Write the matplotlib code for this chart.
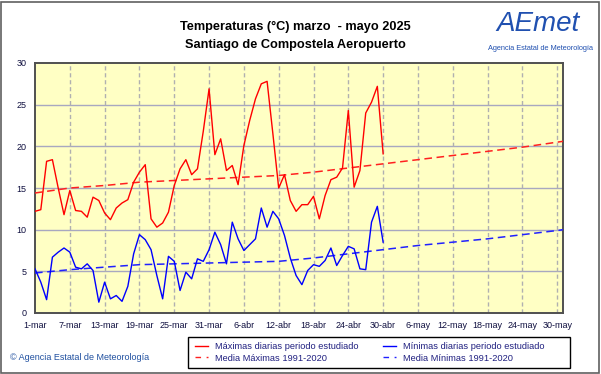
import matplotlib
matplotlib.use("Agg")
import matplotlib.pyplot as plt
from matplotlib.patches import Rectangle
from matplotlib.lines import Line2D

# ---- data (day index from 1-mar) ----
tmax = [12.2, 12.4, 18.2, 18.4, 15.0, 11.8, 14.7, 12.3, 12.2, 11.5,
        13.9, 13.5, 12.0, 11.2, 12.6, 13.2, 13.6, 15.7, 16.9, 17.8,
        11.3, 10.3, 10.8, 12.1, 15.3, 17.3, 18.4, 16.6, 17.3, 21.8,
        26.9, 19.0, 20.9, 17.1, 17.7, 15.4, 20.1, 23.1, 25.7, 27.5,
        27.8, 21.5, 15.0, 16.6, 13.5, 12.2, 13.0, 13.0, 14.0, 11.3,
        14.1, 16.0, 16.3, 17.4, 24.3, 15.1, 17.1, 24.0, 25.3, 27.2,
        19.1]
tmin = [5.3, 3.7, 1.6, 6.7, 7.3, 7.8, 7.3, 5.5, 5.3, 5.9,
        5.1, 1.3, 3.7, 1.7, 2.1, 1.4, 3.2, 7.1, 9.4, 8.8,
        7.6, 4.5, 1.7, 6.8, 6.2, 2.7, 4.9, 4.1, 6.5, 6.2,
        7.6, 9.7, 8.2, 5.9, 10.9, 8.9, 7.5, 8.2, 8.9, 12.6,
        10.3, 12.2, 11.3, 9.3, 6.6, 4.5, 3.4, 5.1, 5.8, 5.6,
        6.3, 7.8, 5.7, 6.9, 8.0, 7.7, 5.3, 5.2, 10.9, 12.8,
        8.5]
mean_days = [0, 6, 12, 18, 24, 30, 36, 42, 48, 54, 60, 66, 72, 78, 84, 90, 91]
mean_max = [14.4, 15.0, 15.3, 15.7, 15.9, 16.1, 16.3, 16.5, 16.9, 17.4,
            17.9, 18.4, 18.9, 19.4, 19.9, 20.5, 20.6]
mean_min = [4.8, 5.2, 5.5, 5.8, 5.9, 6.0, 6.1, 6.2, 6.6, 7.1,
            7.6, 8.1, 8.5, 8.9, 9.4, 9.9, 10.0]
tick_days = [0, 6, 12, 18, 24, 30, 36, 42, 48, 54, 60, 66, 72, 78, 84, 90]
tick_labels = ["1-mar", "7-mar", "13-mar", "19-mar", "25-mar", "31-mar",
               "6-abr", "12-abr", "18-abr", "24-abr", "30-abr", "6-may",
               "12-may", "18-may", "24-may", "30-may"]
y_ticks = [0, 5, 10, 15, 20, 25, 30]

plt.rcParams['font.family'] = ['Liberation Sans', 'DejaVu Sans']

W, H = 601, 374
fig = plt.figure(figsize=(W / 100, H / 100), dpi=100)
fig.patch.set_facecolor("white")
fig.patches.append(Rectangle((1 / W, 1 / H), 1 - 3 / W, 1 - 3 / H, transform=fig.transFigure,
                             fill=False, edgecolor="#606060", linewidth=1.2))

ax = fig.add_axes([35 / W, 1 - 313 / H, 528 / W, 250 / H])
ax.set_facecolor("#FFFFC4")
ax.set_xlim(0, 91)
ax.set_ylim(0, 30)

for y in y_ticks[1:-1]:
    ax.axhline(y, color="#A8A8C0", linewidth=1.0, zorder=1)
for d in tick_days[1:]:
    ax.axvline(d, color="#B0B0B0", linewidth=1.0, linestyle=(0, (3, 2)), zorder=1)

days = list(range(len(tmax)))
ax.plot(mean_days, mean_max, color="#FF2020", linewidth=1.1, linestyle=(0, (5, 3)), zorder=3)
ax.plot(mean_days, mean_min, color="#2020FF", linewidth=1.1, linestyle=(0, (5, 3)), zorder=3)
ax.plot(days, tmax, color="#FF0000", linewidth=1.0, zorder=4)
ax.plot(days, tmin, color="#0000FF", linewidth=1.0, zorder=4)

ax.set_xticks(tick_days)
ax.set_xticklabels(tick_labels)
ax.set_yticks(y_ticks)
ax.tick_params(axis="both", length=0, labelsize=6.5, colors="#101040")
ax.tick_params(axis="x", pad=6)
ax.tick_params(axis="y", pad=6)
for s in ax.spines.values():
    s.set_color("#505050")
    s.set_linewidth(1.4)

fig.text(295 / W, 1 - 27 / H, "Temperaturas (°C) marzo  - mayo 2025", ha="center", va="center",
         fontsize=9.2, fontweight="bold")
fig.text(295 / W, 1 - 45 / H, "Santiago de Compostela Aeropuerto", ha="center", va="center",
         fontsize=9.2, fontweight="bold")

# logo-like text
fig.text(538 / W, 1 - 24 / H, "AEmet", ha="center", va="center", fontsize=20, color="#2050B0",
         fontstyle="italic")
fig.text(540 / W, 1 - 48 / H, "Agencia Estatal de Meteorología", ha="center", va="center",
         fontsize=5.3, color="#2050B0")

fig.text(10 / W, 1 - 358 / H, "© Agencia Estatal de Meteorología", ha="left", va="center",
         fontsize=6.5, color="#2050A0")

# legend box
fig.patches.append(Rectangle((188 / W, 1 - 368 / H), (570 - 188) / W, 31 / H,
                             transform=fig.transFigure, fill=False, edgecolor="black",
                             linewidth=1.0))
handles = [Line2D([], [], color="#FF0000", linewidth=1.0),
           Line2D([], [], color="#FF2020", linewidth=1.0, linestyle=(0, (4, 4))),
           Line2D([], [], color="#0000FF", linewidth=1.0),
           Line2D([], [], color="#2020FF", linewidth=1.0, linestyle=(0, (4, 4)))]
labels = ["Máximas diarias periodo estudiado", "Media Máximas 1991-2020",
          "Mínimas diarias periodo estudiado", "Media Mínimas 1991-2020"]
leg = fig.legend(handles, labels, ncol=2, loc="center left",
                 bbox_to_anchor=(188 / W, 1 - 352.5 / H),
                 fontsize=6.7, frameon=False,
                 handlelength=1.4, handletextpad=0.8, columnspacing=2.6,
                 labelspacing=0.25, borderpad=0.2)
for t in leg.get_texts():
    t.set_color("#202080")

fig.savefig("out.png", dpi=100)
